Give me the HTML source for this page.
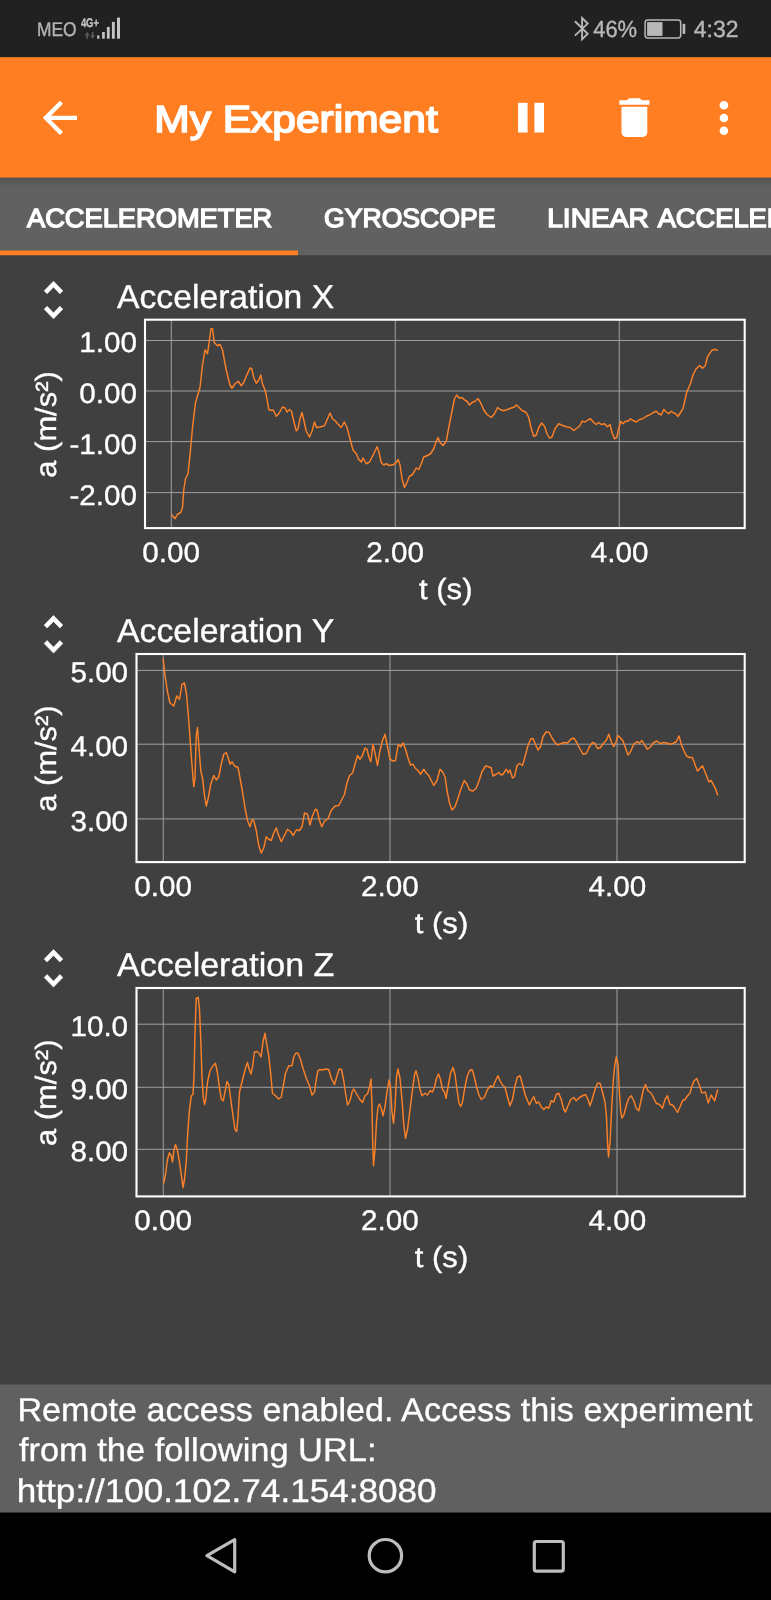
<!DOCTYPE html>
<html lang="en"><head><meta charset="utf-8"><title>My Experiment</title>
<style>html,body{margin:0;padding:0;background:#404040;overflow:hidden}svg{display:block;will-change:transform}</style></head>
<body>
<svg width="771" height="1600" viewBox="0 0 771 1600" font-family='"Liberation Sans", sans-serif' text-rendering="geometricPrecision">
<defs><linearGradient id="sh" x1="0" y1="0" x2="0" y2="1"><stop offset="0" stop-color="#000" stop-opacity=".16"/><stop offset="1" stop-color="#000" stop-opacity="0"/></linearGradient></defs>
<rect width="771" height="1600" fill="#404040"/>
<rect width="771" height="57.2" fill="#212121"/>
<rect y="57.2" width="771" height="120.6" fill="#ff7e22"/>
<rect y="177.8" width="771" height="77.4" fill="#616161"/>
<rect y="177.8" width="771" height="9" fill="url(#sh)"/>
<rect y="250.5" width="298" height="4.7" fill="#ff7e22"/>
<rect y="1384.5" width="771" height="128.2" fill="#606060"/>
<rect y="1512.6" width="771" height="88" fill="#000"/>
<g fill="#c6c6c6">
<rect x="97.2" y="35.4" width="2.20" height="3.30"/>
<rect x="102.1" y="32.0" width="2.70" height="6.70"/>
<rect x="106.9" y="26.9" width="2.80" height="11.80"/>
<rect x="111.9" y="21.9" width="2.90" height="16.80"/>
<rect x="117.0" y="17.6" width="3.00" height="21.10"/>
</g>
<g fill="#5a5a5a"><path d="M87.2 32 l2.6 3.2 h-1.7 v3.5 h-1.8 v-3.5 h-1.7z"/><path d="M92.6 38.7 l-2.6 -3.2 h1.7 v-3.5 h1.8 v3.5 h1.7z"/></g>
<path d="M574.9 21.2 L587.7 33.7 L582.1 39.3 V18.1 L587.7 23.6 L574.9 35.6" fill="none" stroke="#b8b8b8" stroke-width="1.9" stroke-linejoin="miter"/>
<rect x="645.1" y="20.1" width="35.6" height="17.8" rx="2.6" fill="none" stroke="#b8b8b8" stroke-width="1.5"/>
<rect x="647.1" y="22.1" width="15.4" height="13.8" fill="#b8b8b8"/>
<rect x="682.6" y="23.8" width="2.7" height="10.3" rx="0.8" fill="#b8b8b8"/>
<g fill="#fff">
<path transform="translate(34.22 92.17) scale(2.14)" d="M20 11H7.83l5.59-5.59L12 4l-8 8 8 8 1.41-1.41L7.83 13H20v-2z"/>
<rect x="518.1" y="102.8" width="9.5" height="29.7"/><rect x="534.4" y="102.8" width="9.6" height="29.7"/>
<path transform="translate(608.60 91.75) scale(2.15)" d="M6 19c0 1.1.9 2 2 2h8c1.1 0 2-.9 2-2V7H6v12zM19 4h-3.5l-1-1h-5l-1 1H5v2h14V4z"/>
<circle cx="723.9" cy="105.2" r="4.3"/>
<circle cx="723.9" cy="118.0" r="4.3"/>
<circle cx="723.9" cy="130.8" r="4.3"/>
</g>
<g stroke="#9e9e9e" stroke-width="1" fill="none">
<path d="M145.0 340.5H744.7"/>
<path d="M145.0 391.0H744.7"/>
<path d="M145.0 441.6H744.7"/>
<path d="M145.0 492.6H744.7"/>
<path d="M171.3 319.7V528.1"/>
<path d="M395.25 319.7V528.1"/>
<path d="M619.25 319.7V528.1"/>
</g>
<polyline points="172,515 175,518.75 177.5,514.25 180.75,512.5 182.5,507.5 183.75,490 185.5,478.75 188,473.75 190,455 192.5,427.5 195.5,402.5 200,387.5 202.5,365 205,350 207.5,353.75 208.75,345 211,328.75 212.5,328.75 214.25,342.5 217.5,345.75 220,344.5 222.5,350 226.25,370 230,385 232,388.25 235,383.75 238.25,381.25 241.25,385.75 243.75,382.5 246.25,376.25 250,368 251.75,368.75 253.75,377.5 256.25,383.25 258.75,380 260.75,375 262.5,383.75 265,390 266.25,395 268.75,409.5 271.25,410.5 273.25,410 276.25,416.25 278.75,413.75 282.5,407 285,408 287,412 289.5,409.5 291.5,411.25 293.75,421.25 296.25,430.75 298,428.75 300,418.75 302,412.5 303.75,420 306.25,431.25 309.5,437 312,431.25 314.5,422 316.5,427.5 320,427 324.5,425.75 327.5,418.75 330,413 332.5,418.75 335.5,421.25 338.75,425 341.25,427.5 344.25,422 347,427.5 350,438.75 353,450 356.25,453.75 358.75,459.5 361.25,462 363,458 366.25,463.75 369.5,462 373.75,453.75 377,446.75 378.75,451.25 381.25,462.5 383.75,465 386.25,463.75 389.5,465.5 393.75,464.5 396.25,462.5 398.25,459.5 400,465 402,478.75 404.5,487.5 407,482.5 409.5,476.25 412,475 414.5,471.25 416.25,468 418.75,469.5 421.25,463.75 423.75,457 427.5,455.5 430.5,453.75 433.75,448.75 436.25,441.25 438,437.5 440,442.5 443,445.5 446.25,441.25 448.75,427.5 452,411.25 454.5,398.75 456.75,395 459.25,398 462,397.5 464.5,400 467,401.25 469.5,405 472,402.5 475,401.25 478,398.75 480.5,402.5 483.75,410 487,414.5 491.25,417.5 494.5,413.75 497.5,407.5 500,409.5 503.75,410.75 507.5,409.5 511.25,408 514.5,407 516.25,405 518.75,407 522,410.5 526.25,412.5 528.75,417.5 531.25,428.75 533.75,436.25 536.25,435 538.75,427.5 541.75,423 544.5,426.25 547,433.75 549.5,438 552,437 555,428.75 558.75,423.75 562.5,425.5 566.25,426.75 570,427.5 573.75,430.5 577,428 579.5,426.25 582,421.25 585,422 588,420 590.5,418.75 593.75,422.5 596.25,424.5 598.75,422.5 601.25,424.5 604.5,423.75 607.5,426.75 610,424.5 612,432.5 614.5,438.75 616.75,437.5 618.75,428.75 620.75,421.25 623,423.75 625.5,421.25 628,421.25 630.5,418.75 633,420.5 636.25,422 639.5,419.5 642.5,418.75 646.25,416.25 649.5,415 652.5,413 656.25,411.25 658.75,413.75 661.25,415 663.75,409.5 666.25,412 668.75,413.75 671.25,411.25 673.75,413 675.75,413.75 678,416.5 680.5,412.5 683,408.6 685,400 686.8,392 690.5,383.5 693,375 696,369 699.6,365.4 702.5,368.3 705.4,365.4 707.5,356.75 711.8,350.3 715.4,349.3 717.6,350.3" fill="none" stroke="#fb8028" stroke-width="1.45" stroke-linejoin="round" stroke-linecap="round"/>
<rect x="145.0" y="319.7" width="599.70" height="208.40" fill="none" stroke="#fff" stroke-width="2.1"/>
<path fill="#fff" stroke="#fff" stroke-width="0.3" transform="translate(29.26 274.92) scale(2.02 2.09)" d="M12 5.83L15.17 9l1.41-1.41L12 3 7.41 7.59 8.83 9 12 5.83zm0 12.34L8.83 15l-1.41 1.41L12 21l4.59-4.59L15.17 15 12 18.17z"/>
<g stroke="#9e9e9e" stroke-width="1" fill="none">
<path d="M136.5 670.4H744.7"/>
<path d="M136.5 744.2H744.7"/>
<path d="M136.5 818.9H744.7"/>
<path d="M163.25 654.0V862.1"/>
<path d="M390.0 654.0V862.1"/>
<path d="M617.0 654.0V862.1"/>
</g>
<polyline points="163.25,659.25 165,675.5 167.5,691.75 170,703 173.75,706 176.75,696 179.5,699.25 182,684.25 184.5,683 186.5,694.25 188.75,720.5 191.25,755.5 193.75,786.75 195,778 196.25,735.5 197.5,727.5 199,748 200.75,770.5 202.5,778 204.5,795.5 206.25,806 208.25,798 210.75,784.25 213.75,775.5 216.25,780 218.75,776.75 221.25,764.25 223.75,754.25 226.25,752.5 228.25,758 230,764.25 232,761.75 234.5,766 238,767.5 240,778 242.5,791.75 245,808 247.5,820.5 250,826.75 252,820 253.75,820.5 256.25,830.5 258.75,845.5 261.25,853 263.75,848 266.25,836.75 268.75,839.25 271.25,840.5 273.75,833 276.25,828 278.75,835.5 281.25,841.75 283.75,836.75 287.5,829.25 290.75,831.75 293.25,835.5 296.25,830 299.5,830.5 302,826.75 304.5,813 307.5,814.25 310,825 312.5,815.5 315.5,809.25 317,810 319.5,820.5 321.75,826.75 324.5,821.25 328,818.75 331.25,810.5 335,806 338.75,805.5 342,799.25 344.5,794.25 347,783 349.5,775.5 352.5,773 355,764.25 357.5,755.5 360,759.25 362.5,755.5 365,748 367,749.25 368.75,756.75 370.75,761.75 373,744.25 375,753 377.5,765.5 379.5,753 382,741.75 385,734.25 387.5,746.75 390,759.25 393,761 395.5,760.5 398.25,744.25 400.75,746.75 403.25,743 405.5,749.25 408,758 410.5,765 413,764.25 415.5,768.5 418,770.5 420.5,774.25 423.75,769.25 426.25,773 428.75,775.5 431.25,780.5 433.75,785.5 437,780.5 440,769.25 442.5,771.75 445,776.75 447,790.5 449.5,803 452,810 455,806.75 458,798 461.25,788 464.25,780.5 467,784.25 469.5,790 473,791 476.25,788 478.75,781.75 482,771.75 485.5,766 488.75,766.75 491.25,768 493,776 496.25,774.25 498.75,772.5 501.25,775 503,774.25 506.25,769.25 508.25,773 510,770 512.5,778 514.5,776.75 517,765.5 519.5,763.5 522.5,765.5 525,756.75 528,745.5 530.5,739.25 533,738.5 535.5,744.25 538,750 540.5,746.75 543,736.75 546.25,731.75 549.25,732.5 552,738 555,742.5 557.5,745 561.25,743.5 564.5,742.5 567.5,743 570.75,739.25 573.75,738 576.75,742.5 579.5,748 583,754.25 586.25,753.5 589.5,746.75 592.5,742.5 595,743.5 597.5,748.5 600.5,747.5 603.75,743 606.25,740.5 608.75,734.25 611.25,741.75 613.75,746.75 615.75,743 618,735.5 620.5,738 623,741 625.5,748 628,755 630.5,751.75 633.75,744.25 637,741.75 639.5,743 642,740.5 644.5,745 647.5,749.25 650.5,746.75 653.75,742.5 657,741 660,743.5 663.75,742.5 667,743 670,744.25 673,743.5 676.25,741.75 679,736 681.5,745 683.75,750.5 686.5,756 689.5,757.5 692.4,757.4 697.4,771.1 702.5,765.8 709,781.9 711.1,780.45 715.4,788.4 717.6,794.85" fill="none" stroke="#fb8028" stroke-width="1.45" stroke-linejoin="round" stroke-linecap="round"/>
<rect x="136.5" y="654.0" width="608.20" height="208.10" fill="none" stroke="#fff" stroke-width="2.1"/>
<path fill="#fff" stroke="#fff" stroke-width="0.3" transform="translate(29.26 609.22) scale(2.02 2.09)" d="M12 5.83L15.17 9l1.41-1.41L12 3 7.41 7.59 8.83 9 12 5.83zm0 12.34L8.83 15l-1.41 1.41L12 21l4.59-4.59L15.17 15 12 18.17z"/>
<g stroke="#9e9e9e" stroke-width="1" fill="none">
<path d="M136.5 1024.2H744.7"/>
<path d="M136.5 1087.3H744.7"/>
<path d="M136.5 1149.3H744.7"/>
<path d="M163.25 988.0V1196.4"/>
<path d="M390.0 988.0V1196.4"/>
<path d="M617.0 988.0V1196.4"/>
</g>
<polyline points="163.75,1182.75 165.5,1174.5 167.5,1159.5 169.5,1152.75 171.25,1155.75 172.5,1162 174,1149.5 175.5,1144.5 177.5,1150.75 179.5,1162 181.25,1174.5 183,1187.5 184.5,1179.5 186.25,1162 187.5,1137 189.25,1112 191.25,1095.75 193,1094.5 194,1077 195,1032 196.25,998.25 198.25,997.5 199.5,1009.5 200.75,1039.5 202,1077 203.25,1097 204.5,1104.5 205.75,1099.5 207.5,1082 210,1070.75 213,1065.75 215.5,1063.25 217.5,1073.25 219.5,1088.25 221.5,1099.5 223.25,1100.75 225,1092 227,1081.5 228.75,1084.5 230.75,1099.5 233,1115.75 235,1129.5 236.75,1131.5 238,1117 239.5,1092 242,1082 244.5,1072 246.25,1065.75 247.5,1062.5 249.25,1069.5 251,1074 252.5,1067 254.5,1052 257,1051.5 259,1053.25 261,1057 263,1042 265,1033.25 266.75,1044.5 268.75,1055.75 270.5,1072 272.5,1093.25 275.5,1095.75 278.75,1099 281.25,1097 283,1087 285.5,1073.25 288.75,1065.75 292,1065.75 293.75,1057 295.75,1053.25 298,1053.25 300.5,1059.5 303,1068.25 306.25,1078.25 309.5,1085.75 312,1095 314.5,1092 316.25,1079.5 318,1070.5 319.5,1069.5 322.5,1070 325.5,1069 328.75,1069.5 331.25,1078.25 334.5,1084.5 337,1075.75 339.25,1069 341.5,1069.5 343.75,1080.75 345.75,1094.5 347.5,1105 350,1100.75 352,1092 353.75,1089 356.25,1093.25 359.5,1099 362.5,1102.5 365,1095.75 367.5,1094 369.5,1087 371,1079 372,1107 372.75,1144.5 373.5,1165.75 375,1149.5 376.5,1122 378,1107 379.5,1104 381.25,1108.25 383,1115.75 385,1107 387,1092 389,1080 390.5,1087 392,1112 393.5,1123.25 395,1107 396.5,1077 398,1069 400,1078.25 402,1099.5 403.75,1124.5 405.5,1138.25 407.5,1129.5 410,1109.5 412.5,1089.5 414.5,1075 416,1070.75 418,1078.25 420,1089.5 422,1095.75 425,1093.25 427.5,1095 430,1090.75 432.5,1092 434.5,1087 436.5,1078.25 438.5,1074 440.5,1079.5 442.5,1089.5 444.5,1092 446,1098.25 448,1087 450.5,1073.25 453,1067.5 455,1074.5 457,1089.5 459,1103.25 460.75,1106.5 462.5,1102 464.5,1089.5 467,1077 469.5,1070.75 472,1069.5 474,1075.75 476.25,1085.75 478.75,1094.5 481.25,1099.5 484.5,1097 487.5,1089.5 490.5,1085.75 493,1087 495.5,1080.75 498,1075.75 500,1080.75 502.5,1085 505,1087 507.5,1097 510,1105.75 512.5,1099.5 515,1085.75 517.5,1077 520,1075.75 522.5,1084.5 525,1094.5 527.5,1100.75 529.5,1105 532,1099.5 533.75,1096.5 536.25,1103.25 538.75,1102 541.25,1107 543.75,1109.5 546.25,1107 548.75,1108.25 551.25,1100.75 553.75,1102 556.25,1094.5 558.75,1093.25 561.25,1099.5 563.75,1109.5 565.5,1112 568,1105.75 570.75,1099.5 573.75,1097.5 576.25,1100.75 579.5,1097.5 582.5,1095.75 585.5,1094.5 588,1099.5 590,1105.75 592.5,1098.25 595,1089.5 597.5,1083.25 600,1083.25 602.5,1092 605,1102 606.5,1117 607.5,1142 608.5,1157 610,1142 611.5,1112 613,1084.5 614.5,1067 616.25,1057 618,1064.5 619.25,1089.5 620.75,1112 622,1118.25 624,1114.5 626.25,1105.75 628.75,1098.25 631.25,1095.75 633.75,1100.75 636.25,1108.25 638.75,1110.75 641.25,1099.5 643.75,1088.25 645.5,1084.5 648,1090.75 651.25,1093.25 653.75,1098.25 656.25,1103.25 659.5,1104.5 662.5,1108.25 665,1099.5 667.5,1095.75 670,1104.5 672.5,1105 675,1108.25 677.5,1112.5 680,1107 682.5,1100.75 685,1099.5 687.5,1095.75 690,1093.25 692,1086 693.8,1081.3 696.7,1078.5 699.6,1085.7 701.75,1092.9 705.35,1092.1 708.2,1102.9 711.1,1095 714.7,1100.8 717.6,1090" fill="none" stroke="#fb8028" stroke-width="1.45" stroke-linejoin="round" stroke-linecap="round"/>
<rect x="136.5" y="988.0" width="608.20" height="208.40" fill="none" stroke="#fff" stroke-width="2.1"/>
<path fill="#fff" stroke="#fff" stroke-width="0.3" transform="translate(29.26 943.22) scale(2.02 2.09)" d="M12 5.83L15.17 9l1.41-1.41L12 3 7.41 7.59 8.83 9 12 5.83zm0 12.34L8.83 15l-1.41 1.41L12 21l4.59-4.59L15.17 15 12 18.17z"/>
<g fill="none" stroke="#bdbdbd" stroke-width="3.2" stroke-linejoin="round">
<path d="M234.7 1539.6 V1571.8 L206.9 1555.7 Z"/>
<circle cx="385.4" cy="1555.7" r="16.2"/>
<rect x="534.3" y="1541.5" width="29" height="29.6" rx="2"/>
</g>
<text x="37.02" y="36.4" font-size="19.8" fill="#b3b3b3" stroke="#b3b3b3" stroke-width="0.4" textLength="39.62" lengthAdjust="spacingAndGlyphs">MEO</text>
<text x="80.88" y="27.3" font-size="12.5" fill="#c2c2c2" font-weight="700" stroke="#c2c2c2" stroke-width="0.35" textLength="18.08" lengthAdjust="spacingAndGlyphs">4G+</text>
<text x="593.20" y="37.3" font-size="23.4" fill="#b8b8b8" stroke="#b8b8b8" stroke-width="0.4" textLength="43.95" lengthAdjust="spacingAndGlyphs">46%</text>
<text x="693.80" y="37.3" font-size="23.4" fill="#b8b8b8" stroke="#b8b8b8" stroke-width="0.4" textLength="44.69" lengthAdjust="spacingAndGlyphs">4:32</text>
<text x="154.23" y="132.4" font-size="37.8" fill="#fff" stroke="#fff" stroke-width="1.6" textLength="283.51" lengthAdjust="spacingAndGlyphs">My Experiment</text>
<text x="27.00" y="226.8" font-size="26.4" fill="#fff" stroke="#fff" stroke-width="1.4" textLength="245.29" lengthAdjust="spacingAndGlyphs">ACCELEROMETER</text>
<text x="324.09" y="226.8" font-size="26.4" fill="#fff" stroke="#fff" stroke-width="1.4" textLength="171.31" lengthAdjust="spacingAndGlyphs">GYROSCOPE</text>
<text x="547.17" y="226.8" font-size="26.4" fill="#fff" stroke="#fff" stroke-width="1.4" textLength="101.76" lengthAdjust="spacingAndGlyphs">LINEAR</text>
<text x="657.70" y="226.8" font-size="26.4" fill="#fff" stroke="#fff" stroke-width="1.4" textLength="209.97" lengthAdjust="spacingAndGlyphs">ACCELERATION</text>
<text x="117.08" y="307.8" font-size="33.2" fill="#fff" stroke="#fff" stroke-width="0.35" textLength="217.09" lengthAdjust="spacingAndGlyphs">Acceleration X</text>
<text x="79.33" y="352.4" font-size="28.3" fill="#fff" stroke="#fff" stroke-width="0.35" textLength="57.67" lengthAdjust="spacingAndGlyphs">1.00</text>
<text x="79.33" y="402.9" font-size="28.3" fill="#fff" stroke="#fff" stroke-width="0.35" textLength="57.67" lengthAdjust="spacingAndGlyphs">0.00</text>
<text x="69.46" y="453.5" font-size="28.3" fill="#fff" stroke="#fff" stroke-width="0.35" textLength="67.54" lengthAdjust="spacingAndGlyphs">-1.00</text>
<text x="69.46" y="504.5" font-size="28.3" fill="#fff" stroke="#fff" stroke-width="0.35" textLength="67.54" lengthAdjust="spacingAndGlyphs">-2.00</text>
<text x="142.33" y="562.1" font-size="28.3" fill="#fff" stroke="#fff" stroke-width="0.35" textLength="57.67" lengthAdjust="spacingAndGlyphs">0.00</text>
<text x="366.28" y="562.1" font-size="28.3" fill="#fff" stroke="#fff" stroke-width="0.35" textLength="57.67" lengthAdjust="spacingAndGlyphs">2.00</text>
<text x="590.80" y="562.1" font-size="28.3" fill="#fff" stroke="#fff" stroke-width="0.35" textLength="57.67" lengthAdjust="spacingAndGlyphs">4.00</text>
<text x="419.03" y="598.9" font-size="29.2" fill="#fff" stroke="#fff" stroke-width="0.35" textLength="53.48" lengthAdjust="spacingAndGlyphs">t (s)</text>
<text transform="translate(56.3 424.09999999999997) rotate(-90)" x="-53.58" y="0" font-size="29.2" fill="#fff" stroke="#fff" stroke-width="0.35" textLength="106.43" lengthAdjust="spacingAndGlyphs">a (m/s²)</text>
<text x="117.08" y="642.1" font-size="33.2" fill="#fff" stroke="#fff" stroke-width="0.35" textLength="217.09" lengthAdjust="spacingAndGlyphs">Acceleration Y</text>
<text x="70.43" y="682.3" font-size="28.3" fill="#fff" stroke="#fff" stroke-width="0.35" textLength="57.67" lengthAdjust="spacingAndGlyphs">5.00</text>
<text x="70.43" y="756.1" font-size="28.3" fill="#fff" stroke="#fff" stroke-width="0.35" textLength="57.67" lengthAdjust="spacingAndGlyphs">4.00</text>
<text x="70.43" y="830.8" font-size="28.3" fill="#fff" stroke="#fff" stroke-width="0.35" textLength="57.67" lengthAdjust="spacingAndGlyphs">3.00</text>
<text x="134.28" y="896.1" font-size="28.3" fill="#fff" stroke="#fff" stroke-width="0.35" textLength="57.67" lengthAdjust="spacingAndGlyphs">0.00</text>
<text x="361.03" y="896.1" font-size="28.3" fill="#fff" stroke="#fff" stroke-width="0.35" textLength="57.67" lengthAdjust="spacingAndGlyphs">2.00</text>
<text x="588.55" y="896.1" font-size="28.3" fill="#fff" stroke="#fff" stroke-width="0.35" textLength="57.67" lengthAdjust="spacingAndGlyphs">4.00</text>
<text x="414.78" y="932.9" font-size="29.2" fill="#fff" stroke="#fff" stroke-width="0.35" textLength="53.48" lengthAdjust="spacingAndGlyphs">t (s)</text>
<text transform="translate(56.3 758.25) rotate(-90)" x="-53.58" y="0" font-size="29.2" fill="#fff" stroke="#fff" stroke-width="0.35" textLength="106.43" lengthAdjust="spacingAndGlyphs">a (m/s²)</text>
<text x="117.08" y="976.1" font-size="33.2" fill="#fff" stroke="#fff" stroke-width="0.35" textLength="217.23" lengthAdjust="spacingAndGlyphs">Acceleration Z</text>
<text x="70.43" y="1036.1000000000001" font-size="28.3" fill="#fff" stroke="#fff" stroke-width="0.35" textLength="57.67" lengthAdjust="spacingAndGlyphs">10.0</text>
<text x="70.43" y="1099.2" font-size="28.3" fill="#fff" stroke="#fff" stroke-width="0.35" textLength="57.67" lengthAdjust="spacingAndGlyphs">9.00</text>
<text x="70.43" y="1161.2" font-size="28.3" fill="#fff" stroke="#fff" stroke-width="0.35" textLength="57.67" lengthAdjust="spacingAndGlyphs">8.00</text>
<text x="134.28" y="1230.4" font-size="28.3" fill="#fff" stroke="#fff" stroke-width="0.35" textLength="57.67" lengthAdjust="spacingAndGlyphs">0.00</text>
<text x="361.03" y="1230.4" font-size="28.3" fill="#fff" stroke="#fff" stroke-width="0.35" textLength="57.67" lengthAdjust="spacingAndGlyphs">2.00</text>
<text x="588.55" y="1230.4" font-size="28.3" fill="#fff" stroke="#fff" stroke-width="0.35" textLength="57.67" lengthAdjust="spacingAndGlyphs">4.00</text>
<text x="414.78" y="1267.2" font-size="29.2" fill="#fff" stroke="#fff" stroke-width="0.35" textLength="53.48" lengthAdjust="spacingAndGlyphs">t (s)</text>
<text transform="translate(56.3 1092.4) rotate(-90)" x="-53.58" y="0" font-size="29.2" fill="#fff" stroke="#fff" stroke-width="0.35" textLength="106.43" lengthAdjust="spacingAndGlyphs">a (m/s²)</text>
<text x="17.40" y="1421" font-size="32.9" fill="#fff" stroke="#fff" stroke-width="0.35" textLength="735.07" lengthAdjust="spacingAndGlyphs">Remote access enabled. Access this experiment</text>
<text x="18.98" y="1461.4" font-size="32.9" fill="#fff" stroke="#fff" stroke-width="0.35" textLength="357.49" lengthAdjust="spacingAndGlyphs">from the following URL:</text>
<text x="16.84" y="1501.8" font-size="32.9" fill="#fff" stroke="#fff" stroke-width="0.35" textLength="419.76" lengthAdjust="spacingAndGlyphs">http://100.102.74.154:8080</text>
</svg>
</body></html>
